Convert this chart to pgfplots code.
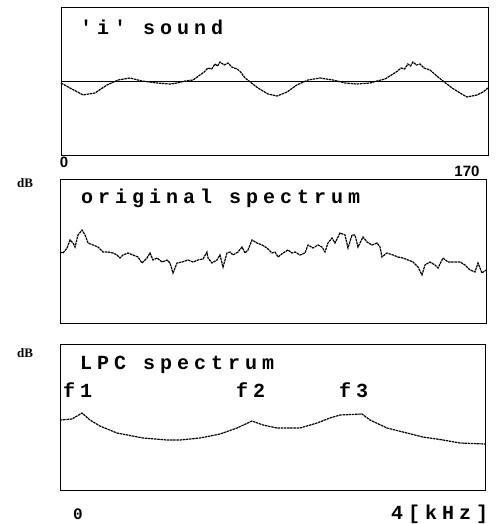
\documentclass[border=0pt]{standalone}
\usepackage{pgfplots}
\pgfplotsset{compat=1.18}
\usepackage{fontspec}
\setmainfont{Liberation Serif}
\newfontfamily\dotfont[LetterSpace=25]{Liberation Mono Bold}
\newfontfamily\labsans{Liberation Sans}
\newcommand{\dt}{\dotfont\fontsize{20bp}{22bp}\selectfont}
\begin{document}
\begin{tikzpicture}
\path[use as bounding box] (0,0) rectangle (498bp,-524bp);
\pgfplotsset{
  panel/.style={scale only axis, anchor=south west, xtick=\empty, ytick=\empty,
    axis line style={line width=1pt}, clip=false},
  wave/.style={black, line width=1.2pt, dash pattern=on 2.5pt off 0.7pt, mark=none}
}
% Panel 1: 'i' sound waveform
\begin{axis}[panel, at={(61bp,-155bp)}, width=427bp, height=148bp,
  xmin=0, xmax=170, ymin=-74, ymax=74]
\addplot[black, line width=1pt] coordinates {(0,0) (170,0)};
\addplot[wave] coordinates {
(0,-2) (3.6,-7) (8.8,-14) (13.5,-12) (18.3,-4) (22.7,1) (27.5,3) (32.2,0)
(38.2,-2) (43.4,-3) (46.2,-2) (49.4,0) (52.6,1) (55.3,6) (57.0,9) (58.5,13)
(60.0,12) (61.3,17) (62.3,15) (63.3,19) (65.0,16) (66.5,18) (68.0,14) (70.1,12)
(71.5,9) (73.3,3) (74.8,0) (78.4,-7) (82.4,-13) (86.0,-15) (90.0,-11) (93.9,-4)
(98.3,1) (103.1,3) (108.3,1) (113.1,-2) (117.8,-3) (123.0,-2) (125.8,0) (129.0,2)
(132.2,7) (134.0,10) (135.4,13) (136.8,12) (138.1,17) (139.2,15) (140.1,19) (141.5,16)
(142.9,17) (144.5,13) (146.9,11) (150.1,4) (152.1,0) (155.7,-7) (159.5,-13)
(161.6,-16) (165.6,-14) (168.0,-11) (170,-7)};
\end{axis}
% Panel 2: original spectrum
\begin{axis}[panel, at={(60bp,-323bp)}, width=426bp, height=144bp,
  xmin=0, xmax=4, ymin=0, ymax=144]
\addplot[wave] coordinates {
(0.000,71) (0.028,70) (0.066,75) (0.094,83) (0.122,80) (0.141,76) (0.169,88)
(0.207,93) (0.235,88) (0.263,80) (0.310,78) (0.357,76) (0.404,71) (0.451,71)
(0.498,70) (0.535,68) (0.563,65) (0.592,68) (0.638,70) (0.685,68) (0.732,66)
(0.770,60) (0.817,65) (0.845,70) (0.873,63) (0.911,65) (0.958,61) (1.005,63)
(1.033,60) (1.061,50) (1.099,60) (1.146,61) (1.202,63) (1.249,61) (1.296,63)
(1.343,64) (1.380,71) (1.390,65) (1.427,60) (1.474,63) (1.502,68) (1.531,56)
(1.568,70) (1.596,71) (1.624,68) (1.671,71) (1.709,76) (1.737,70) (1.765,73)
(1.803,83) (1.850,80) (1.897,78) (1.944,75) (1.991,70) (2.019,71) (2.047,66)
(2.094,70) (2.141,73) (2.178,70) (2.207,71) (2.254,68) (2.300,70) (2.329,78)
(2.376,75) (2.423,78) (2.460,76) (2.488,71) (2.516,80) (2.554,85) (2.582,80)
(2.610,86) (2.629,90) (2.676,88) (2.704,75) (2.742,88) (2.770,88) (2.798,76)
(2.845,86) (2.883,81) (2.930,78) (2.977,80) (3.005,76) (3.023,66) (3.070,70)
(3.127,68) (3.174,66) (3.221,65) (3.268,63) (3.315,61) (3.362,56) (3.399,48)
(3.427,58) (3.474,61) (3.521,58) (3.549,55) (3.596,65) (3.643,61) (3.709,61)
(3.756,61) (3.803,58) (3.850,53) (3.897,51) (3.925,60) (3.962,50) (4.000,53)};
\end{axis}
% Panel 3: LPC spectrum
\begin{axis}[panel, at={(60bp,-490bp)}, width=425bp, height=146bp,
  xmin=0, xmax=4, ymin=0, ymax=146]
\addplot[wave] coordinates {
(0.000,70) (0.113,71) (0.207,77) (0.282,70) (0.376,64) (0.536,57) (0.781,52)
(1.007,50) (1.129,50) (1.318,52) (1.506,56) (1.666,62) (1.807,69) (1.911,65)
(2.042,62) (2.259,62) (2.419,67) (2.541,72) (2.635,75) (2.842,76) (2.918,70)
(3.078,62) (3.228,58) (3.416,53) (3.605,50) (3.765,47) (4.000,46)};
\end{axis}
% texts
\node[anchor=west, inner sep=0pt] at (80bp,-27bp) {\dt 'i' sound};
\node[anchor=west, inner sep=0pt] at (81bp,-198bp) {\dt original spectrum};
\node[anchor=west, inner sep=0pt] at (80bp,-365bp) {\dt LPC spectrum};
\node[anchor=west, inner sep=0pt] at (63bp,-390bp) {\dt f1};
\node[anchor=west, inner sep=0pt] at (236bp,-390bp) {\dt f2};
\node[anchor=west, inner sep=0pt] at (339bp,-390bp) {\dt f3};
\node[anchor=west, inner sep=0pt] at (391bp,-514bp) {\dt 4[kHz]};
\node[anchor=center, inner sep=0pt] at (78bp,-514bp) {\dotfont\fontsize{16bp}{18bp}\selectfont 0};
\node[anchor=center, inner sep=0pt] at (64bp,-162bp) {\labsans\bfseries\fontsize{15bp}{17bp}\selectfont 0};
\node[anchor=center, inner sep=0pt] at (467bp,-171bp) {\labsans\bfseries\fontsize{15bp}{17bp}\selectfont 170};
\node[anchor=center, inner sep=0pt] at (25bp,-183bp) {\bfseries\fontsize{13bp}{15bp}\selectfont dB};
\node[anchor=center, inner sep=0pt] at (25bp,-353bp) {\bfseries\fontsize{13bp}{15bp}\selectfont dB};
\end{tikzpicture}
\end{document}
